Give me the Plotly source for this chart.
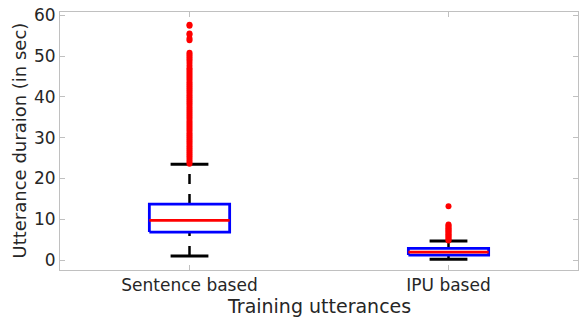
import plotly.graph_objects as go

categories = ["Sentence based", "IPU based"]
q1 = [6.85, 1.2]
median = [9.7, 1.95]
q3 = [13.7, 2.85]
lower_whisker = [1.0, 0.2]
upper_whisker = [23.5, 4.65]
outliers = [
    [23.6, 24.1, 24.6, 25.1, 25.6, 26.1, 26.6, 27.1, 27.6, 28.1, 28.6, 29.1, 29.6,
     30.1, 30.6, 31.1, 31.6, 32.1, 32.6, 33.1, 33.6, 34.1, 34.6, 35.1, 35.6, 36.1,
     36.6, 37.1, 37.6, 38.1, 38.6, 39.1, 39.6, 40.1, 40.6, 41.1, 41.6, 42.1, 42.6,
     43.1, 43.6, 44.1, 44.6, 45.1, 45.6, 46.1, 46.6, 47.0, 47.6, 48.3, 48.9, 49.4,
     49.9, 50.4, 50.8, 53.9, 54.3, 55.2, 55.5, 57.4, 57.7],
    [4.8, 5.1, 5.4, 5.7, 6.0, 6.3, 6.6, 6.9, 7.2, 7.5, 7.8, 8.1, 8.4, 8.7, 13.2],
]
y_ticks = [0, 10, 20, 30, 40, 50, 60]

box_half = 0.155
cap_half = 0.073

fig = go.Figure()
for i, name in enumerate(categories):
    x = i + 1
    fig.add_trace(go.Scatter(x=[x, x], y=[q3[i], upper_whisker[i]], mode="lines",
                             line=dict(color="black", width=2.5, dash="10px,10px"), hoverinfo="skip"))
    fig.add_trace(go.Scatter(x=[x, x], y=[lower_whisker[i], q1[i]], mode="lines",
                             line=dict(color="black", width=2.5, dash="10px,10px"), hoverinfo="skip"))
    for v in (upper_whisker[i], lower_whisker[i]):
        fig.add_trace(go.Scatter(x=[x - cap_half, x + cap_half], y=[v, v], mode="lines",
                                 line=dict(color="black", width=3), hoverinfo="skip"))
    fig.add_trace(go.Scatter(
        x=[x - box_half, x + box_half, x + box_half, x - box_half, x - box_half],
        y=[q1[i], q1[i], q3[i], q3[i], q1[i]], mode="lines",
        line=dict(color="blue", width=2.8), hoverinfo="skip"))
    fig.add_trace(go.Scatter(x=[x - box_half, x + box_half], y=[median[i], median[i]], mode="lines",
                             line=dict(color="red", width=2.8), hoverinfo="skip"))
    fig.add_trace(go.Scatter(x=[x] * len(outliers[i]), y=outliers[i], mode="markers",
                             marker=dict(color="red", size=6, line=dict(width=0)), hoverinfo="skip"))

font_color = "#262626"
fig.update_layout(
    width=581, height=318,
    margin=dict(l=60, r=3, t=12, b=48),
    paper_bgcolor="white", plot_bgcolor="white",
    showlegend=False,
    font=dict(family="DejaVu Sans", color=font_color, size=17),
    annotations=[
        dict(text="Training utterances", xref="paper", yref="paper", x=0.5, y=0,
             xanchor="center", yanchor="middle", yshift=-36, showarrow=False,
             font=dict(size=19, color=font_color)),
        dict(text="Utterance duraion (in sec)", xref="paper", yref="paper", x=0, y=0.5,
             xanchor="center", yanchor="middle", xshift=-41.5, textangle=-90, showarrow=False,
             font=dict(size=18, color=font_color)),
    ],
)
fig.update_xaxes(
    range=[0.5, 2.5], tickvals=[1, 2], ticktext=categories,
    showline=True, linecolor="#c0c0c0", linewidth=1, mirror="ticks",
    ticks="inside", ticklen=5, tickcolor="#c0c0c0",
    showgrid=False, zeroline=False, automargin=False,
    tickfont=dict(size=17, color=font_color),
)
fig.update_yaxes(
    range=[-2.45, 60.8], tickvals=y_ticks,
    showline=True, linecolor="#c0c0c0", linewidth=1, mirror="ticks",
    ticks="inside", ticklen=5, tickcolor="#c0c0c0",
    showgrid=False, zeroline=False, automargin=False,
    tickfont=dict(size=17, color=font_color),
)
fig.write_html("out.html", config={"displayModeBar": False},
               post_script="document.body.style.margin='0';")
